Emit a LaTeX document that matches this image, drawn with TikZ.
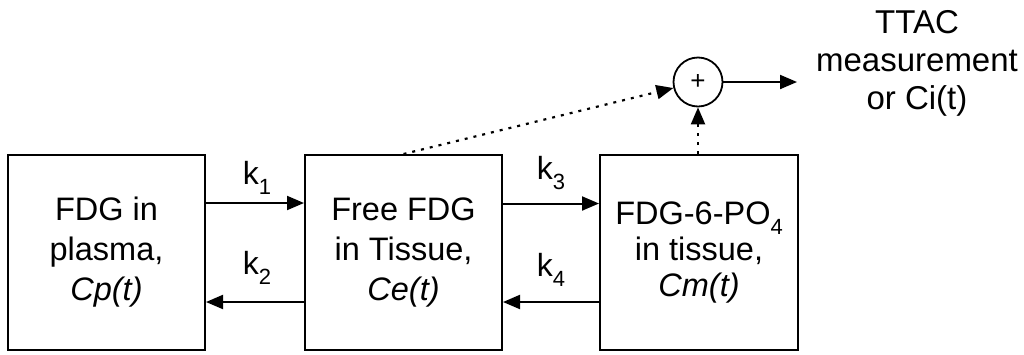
\documentclass[tikz,border=0pt]{standalone}
\usepackage{fontspec}
\setmainfont{Liberation Sans}
\usetikzlibrary{arrows.meta}
\newcommand{\subnum}[1]{\raisebox{-0.32em}{\fontsize{22}{22}\selectfont #1}}
\begin{document}
\begin{tikzpicture}[x=1pt,y=-1pt,
  boxst/.style={draw,line width=2pt,minimum width=197pt,minimum height=195pt,align=center,inner sep=0pt,font=\fontsize{32.5}{40}\selectfont},
  arr/.style={line width=2pt,-{Triangle[length=17pt,width=14pt]}},
  dotarr/.style={line width=2.2pt,dash pattern=on 3pt off 6pt,-{Triangle[length=17pt,width=14pt]}},
  klab/.style={font=\fontsize{32}{32}\selectfont,inner sep=0pt}]
\useasboundingbox (0,0) rectangle (1024,354);
\node[boxst] (b1) at (106.5,252.5) {FDG in\\plasma,\\\textit{Cp(t)}};
\node[boxst] (b2) at (403.5,252.5) {Free FDG\\in Tissue,\\\textit{Ce(t)}};
\node[boxst,minimum width=198pt,font=\fontsize{32.5}{36}\selectfont] (b3) at (699,252.5) {FDG-6-PO\subnum{4}\\in tissue,\\\textit{Cm(t)}};
\node[draw,circle,line width=1.8pt,minimum size=49pt,inner sep=0pt,font=\fontsize{26}{26}\selectfont] (sum) at (698,82) {+};
\coordinate (out) at (797,82);
\node[align=center,inner sep=0pt,font=\fontsize{33}{38}\selectfont] (ttac) at (917,63) {TTAC\\measurement\\or Ci(t)};
\draw[arr] ([yshift=49.5pt]b1.east) -- ([yshift=49.5pt]b2.west);
\draw[arr] ([yshift=-49.5pt]b2.west) -- ([yshift=-49.5pt]b1.east);
\draw[arr] ([yshift=49pt]b2.east) -- ([yshift=49pt]b3.west);
\draw[arr] ([yshift=-49.5pt]b3.west) -- ([yshift=-49.5pt]b2.east);
\draw[dotarr] (b2.north) -- (sum);
\draw[dotarr] ([xshift=-1pt]b3.north) -- (sum.south);
\draw[arr] (sum.east) -- (out);
\node[klab] (k1) at (257,178) {k\subnum{1}};
\node[klab] (k2) at (257,268) {k\subnum{2}};
\node[klab] (k3) at (551,173) {k\subnum{3}};
\node[klab] (k4) at (551,270) {k\subnum{4}};
\end{tikzpicture}
\end{document}
